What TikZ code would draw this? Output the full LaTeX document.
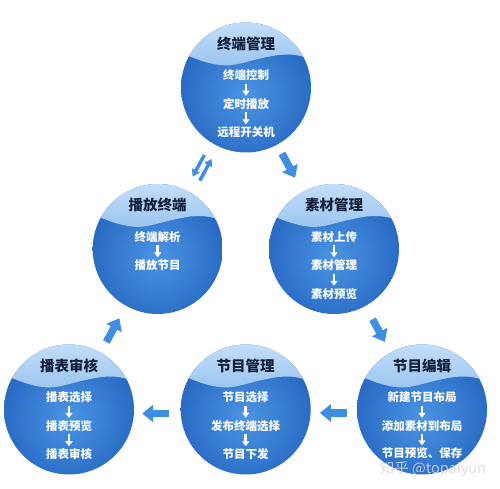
\documentclass[tikz,border=0pt]{standalone}
\usepackage{fontspec}
\newfontfamily\cjk{Noto Sans CJK SC}
\usetikzlibrary{arrows.meta}
\definecolor{titlecol}{HTML}{15213B}
\definecolor{lighttop}{HTML}{C3DEF8}
\definecolor{lightbot}{HTML}{9CC6F0}
\definecolor{lowin}{HTML}{4B94E3}
\definecolor{lowout}{HTML}{2667C2}
\definecolor{arrowblue}{HTML}{3E8EE6}
\definecolor{wmark}{HTML}{D5D9E0}
\begin{document}
\begin{tikzpicture}[x=1pt,y=-1pt,
  ttl/.style={font=\cjk\bfseries\fontsize{14.5}{14.5}\selectfont, text=titlecol, inner sep=0pt},
  itm/.style={font=\cjk\bfseries\fontsize{11.5}{11.5}\selectfont, text=white, inner sep=0pt},
  warrow/.style={draw=white, line width=2.6pt, -{Triangle[width=7pt,length=5pt]}, shorten <=2.5pt, shorten >=2.5pt},
  bigarrow/.style={draw=arrowblue, line width=7.5pt, -{Triangle[width=17pt,length=11pt]}},
  thinarrow/.style={draw=arrowblue, line width=3.5pt, -{Triangle[width=8.5pt,length=7pt]}},
  bub/.style={circle, minimum size=130pt, inner sep=0pt}]
\useasboundingbox (0,0) rectangle (500,489);
\fill[white] (0,0) rectangle (500,489);
\def\R{65}
\foreach \n/\cx/\cy in {top/246/87.5, bofang/157.7/249, sucai/334/249, bobiao/69/409.5, jiemu/245.7/409.5, bianji/422/409.5}{
  \begin{scope}
    \clip (\cx,\cy) circle (\R pt);
    \shade[inner color=lowin, outer color=lowout] (\cx,\cy+0.12*\R) circle (1.12*\R pt);
    \shade[top color=lighttop, bottom color=lightbot]
      (\cx-\R-1,\cy-\R-1) -- (\cx+\R+1,\cy-\R-1) -- (\cx+\R+1,\cy-0.42*\R)
      .. controls (\cx+0.85*\R,\cy-0.5*\R) and (\cx+0.7*\R,\cy-0.52*\R) .. (\cx+0.5*\R,\cy-0.5*\R)
      .. controls (\cx+0.1*\R,\cy-0.44*\R) and (\cx-0.1*\R,\cy-0.34*\R) .. (\cx-0.3*\R,\cy-0.34*\R)
      .. controls (\cx-0.55*\R,\cy-0.34*\R) and (\cx-0.8*\R,\cy-0.45*\R) .. (\cx-\R-1,\cy-0.54*\R) -- cycle;
  \end{scope}
  \node[bub] (\n) at (\cx,\cy) {};
}
% titles
\node[ttl] (topT) at ([yshift=44pt]top.center) {终端管理};
\node[ttl] (bofangT) at ([yshift=44pt]bofang.center) {播放终端};
\node[ttl] (sucaiT) at ([yshift=44pt]sucai.center) {素材管理};
\node[ttl] (bobiaoT) at ([yshift=44pt]bobiao.center) {播表审核};
\node[ttl] (jiemuT) at ([yshift=44pt]jiemu.center) {节目管理};
\node[ttl] (bianjiT) at ([yshift=44pt]bianji.center) {节目编辑};
% items
\node[itm] (top1) at ([yshift=12pt]top.center) {终端控制};
\node[itm] (top2) at ([yshift=-16.5pt]top.center) {定时播放};
\node[itm] (top3) at ([yshift=-45pt]top.center) {远程开关机};
\node[itm] (bofang1) at ([yshift=12pt]bofang.center) {终端解析};
\node[itm] (bofang2) at ([yshift=-16.5pt]bofang.center) {播放节目};
\node[itm] (sucai1) at ([yshift=12pt]sucai.center) {素材上传};
\node[itm] (sucai2) at ([yshift=-16.5pt]sucai.center) {素材管理};
\node[itm] (sucai3) at ([yshift=-45pt]sucai.center) {素材预览};
\node[itm] (bobiao1) at ([yshift=12pt]bobiao.center) {播表选择};
\node[itm] (bobiao2) at ([yshift=-16.5pt]bobiao.center) {播表预览};
\node[itm] (bobiao3) at ([yshift=-45pt]bobiao.center) {播表审核};
\node[itm] (jiemu1) at ([yshift=12pt]jiemu.center) {节目选择};
\node[itm] (jiemu2) at ([yshift=-16.5pt]jiemu.center) {发布终端选择};
\node[itm] (jiemu3) at ([yshift=-45pt]jiemu.center) {节目下发};
\node[itm] (bianji1) at ([yshift=12pt]bianji.center) {新建节目布局};
\node[itm] (bianji2) at ([yshift=-16.5pt]bianji.center) {添加素材到布局};
\node[itm] (bianji3) at ([yshift=-44pt]bianji.center) {节目预览、保存};
% small arrows
\draw[warrow] (top1) -- (top2);
\draw[warrow] (top2) -- (top3);
\draw[warrow] (bofang1) -- (bofang2);
\draw[warrow] (sucai1) -- (sucai2);
\draw[warrow] (sucai2) -- (sucai3);
\draw[warrow] (bobiao1) -- (bobiao2);
\draw[warrow] (bobiao2) -- (bobiao3);
\draw[warrow] (jiemu1) -- (jiemu2);
\draw[warrow] (jiemu2) -- (jiemu3);
\draw[warrow] (bianji1) -- (bianji2);
\draw[warrow] (bianji2) -- (bianji3);
% big arrows
\draw[bigarrow, shorten <=10pt, shorten >=16pt] (top) -- (sucai);
\draw[bigarrow, shorten <=15pt, shorten >=12pt] (sucai) -- (bianji);
\draw[bigarrow, shorten <=10pt, shorten >=9pt, transform canvas={yshift=-3.5pt}] (bianji) -- (jiemu);
\draw[bigarrow, shorten <=12pt, shorten >=8pt, transform canvas={yshift=-4pt}] (jiemu) -- (bobiao);
\draw[bigarrow, shorten <=12pt, shorten >=14pt] (bobiao) -- (bofang);
\draw[thinarrow, shorten <=14pt, shorten >=15pt, transform canvas={xshift=-3.6pt, yshift=2pt}] (top) -- (bofang);
\draw[thinarrow, shorten <=15pt, shorten >=14pt, transform canvas={xshift=3.6pt, yshift=-2pt}] (bofang) -- (top);
% watermark
\node[font=\cjk\fontsize{14.5}{14.5}\selectfont, text=wmark, opacity=0.85, inner sep=0pt] (wm) at (433,469.5) {知乎 @topaiyun};
\end{tikzpicture}
\end{document}
